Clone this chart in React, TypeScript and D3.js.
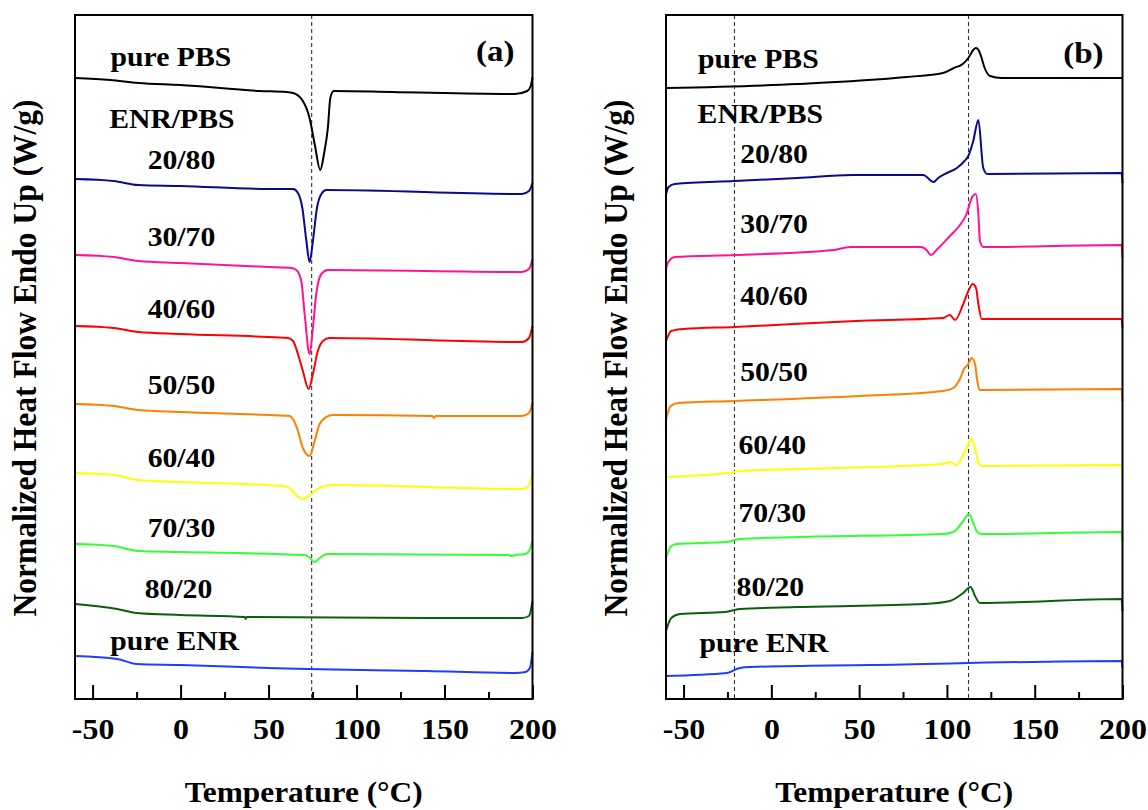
import React, { useEffect, useRef } from "react";
import * as d3 from "d3";

type Pt = [number, number];

// (a) cooling scans, normalized heat flow (W/g, stacked)
const coolPBS: Pt[] = [[-60, 6.21], [-40, 6.19], [-24, 6.16], [0, 6.14], [45, 6.08], [60, 6.07], [64, 6.06], [69.5, 5.98], [73.3, 5.81], [76.2, 5.55], [79.4, 5.29], [81.5, 5.45], [83.7, 5.71], [85.1, 6.01], [87, 6.08], [120, 6.07], [190, 6.05], [197, 6.08], [199, 6.13], [200, 6.22]];
const cool2080: Pt[] = [[-60, 5.20], [-38, 5.18], [-24, 5.14], [0, 5.13], [50, 5.10], [64, 5.10], [66.7, 5.06], [69.2, 4.91], [71.5, 4.58], [73.3, 4.37], [75.2, 4.58], [77.5, 4.91], [80, 5.05], [82.8, 5.09], [194, 5.05], [198, 5.08], [200, 5.16]];
const cool3070: Pt[] = [[-60, 4.44], [-38, 4.42], [-24, 4.38], [0, 4.36], [50, 4.32], [63, 4.31], [65.8, 4.29], [68.6, 4.18], [70.5, 3.85], [73.3, 3.45], [75.2, 3.71], [77.1, 4.05], [80, 4.25], [83.7, 4.29], [194, 4.27], [198, 4.30], [200, 4.40]];
const cool4060: Pt[] = [[-60, 3.73], [-38, 3.71], [-24, 3.67], [0, 3.65], [50, 3.62], [61, 3.61], [63.9, 3.58], [66.7, 3.45], [69.5, 3.28], [72.8, 3.10], [75.2, 3.25], [78, 3.48], [80.9, 3.58], [84.7, 3.61], [194, 3.57], [198, 3.61], [200, 3.73]];
const cool5050: Pt[] = [[-60, 2.95], [-38, 2.93], [-24, 2.89], [0, 2.87], [50, 2.84], [62, 2.83], [63.9, 2.80], [66.7, 2.68], [69.5, 2.51], [73.3, 2.43], [76.2, 2.58], [79, 2.75], [82.8, 2.82], [86.3, 2.84], [143, 2.83], [144, 2.81], [145, 2.83], [194, 2.83], [198, 2.86], [200, 2.96]];
const cool6040: Pt[] = [[-60, 2.26], [-38, 2.24], [-24, 2.19], [0, 2.17], [57.8, 2.13], [61.9, 2.11], [65, 2.05], [69, 2.00], [73, 2.03], [76.1, 2.08], [80.1, 2.12], [86.3, 2.14], [194, 2.10], [198, 2.13], [200, 2.26]];
const cool7030: Pt[] = [[-60, 1.55], [-38, 1.53], [-24, 1.48], [0, 1.47], [70, 1.44], [73, 1.42], [76.1, 1.37], [79.1, 1.41], [83.2, 1.45], [186, 1.44], [188, 1.43], [190, 1.44], [196, 1.45], [198, 1.48], [200, 1.58]];
const cool8020: Pt[] = [[-60, 0.95], [-36, 0.90], [-25, 0.86], [0, 0.84], [36.5, 0.82], [37, 0.80], [37.5, 0.82], [140, 0.81], [194, 0.81], [198, 0.83], [200, 0.98]];
const coolENR: Pt[] = [[-60, 0.43], [-36, 0.40], [-25, 0.35], [0, 0.34], [50, 0.31], [140, 0.28], [190, 0.26], [196, 0.27], [198.5, 0.31], [200, 0.47]];

// (b) heating scans
const heatPBS: Pt[] = [[-60, 6.11], [15, 6.15], [77, 6.22], [97.7, 6.26], [104, 6.31], [109, 6.35], [112.2, 6.41], [115, 6.49], [116.5, 6.51], [118, 6.49], [119.4, 6.43], [121.5, 6.31], [124.6, 6.23], [131, 6.21], [200, 6.21]];
const heat2080: Pt[] = [[-60, 5.05], [-58.5, 5.12], [-55, 5.15], [-21, 5.18], [15, 5.21], [46, 5.24], [86.5, 5.24], [92.4, 5.17], [95, 5.21], [100, 5.26], [105.7, 5.31], [110, 5.38], [112.2, 5.43], [115, 5.58], [117.9, 5.79], [120.7, 5.31], [123, 5.25], [199.5, 5.26], [200, 5.16]];
const heat3070: Pt[] = [[-60, 4.30], [-59, 4.36], [-55, 4.42], [-21, 4.44], [35.7, 4.49], [45, 4.52], [85.3, 4.52], [88.4, 4.49], [90.8, 4.44], [94.6, 4.50], [101.7, 4.63], [107, 4.73], [111.2, 4.85], [114.1, 5.01], [116.4, 5.05], [117.9, 4.85], [118.8, 4.58], [120.7, 4.52], [199.5, 4.54], [200, 4.41]];
const heat4060: Pt[] = [[-60, 3.58], [-57, 3.68], [-50, 3.70], [-21, 3.72], [48, 3.78], [97.7, 3.81], [101.7, 3.84], [104.6, 3.79], [109.3, 3.95], [112.2, 4.08], [114.7, 4.15], [116.6, 4.11], [117.9, 3.95], [119.8, 3.80], [199.5, 3.80], [200, 3.71]];
const heat5050: Pt[] = [[-60, 2.80], [-57.3, 2.93], [-53, 2.96], [-21, 2.98], [50, 3.03], [97.7, 3.08], [103.6, 3.11], [107.4, 3.20], [109.7, 3.30], [112.2, 3.35], [114.1, 3.41], [116, 3.35], [117.3, 3.18], [118.8, 3.09], [199.5, 3.10], [200, 2.98]];
const heat6040: Pt[] = [[-60, 2.22], [-21, 2.27], [-18, 2.28], [15, 2.30], [97.7, 2.35], [101.7, 2.37], [105.2, 2.34], [110.3, 2.48], [112.2, 2.55], [114.1, 2.60], [116, 2.51], [117.9, 2.36], [119.8, 2.33], [199.5, 2.34], [200, 2.25]];
const heat7030: Pt[] = [[-60, 1.41], [-57, 1.53], [-54, 1.55], [-25.3, 1.57], [-18, 1.60], [15, 1.62], [97.7, 1.65], [101.7, 1.66], [104.6, 1.68], [109.3, 1.78], [112.6, 1.85], [115, 1.76], [117.3, 1.67], [119.8, 1.65], [199.5, 1.67], [200, 1.58]];
const heat8020: Pt[] = [[-60, 0.68], [-57, 0.81], [-52, 0.85], [-26.3, 0.87], [-18, 0.90], [15, 0.92], [87, 0.95], [101.7, 0.98], [109.3, 1.06], [113.5, 1.12], [116, 1.03], [118.8, 0.96], [199.5, 1.00], [200, 0.88]];
const heatENR: Pt[] = [[-60, 0.23], [-25.3, 0.26], [-18, 0.31], [-12, 0.32], [56, 0.34], [199.5, 0.38], [200, 0.31]];

const sampleLabels = ["pure PBS", "ENR/PBS", "20/80", "30/70", "40/60", "50/50", "60/40", "70/30", "80/20", "pure ENR"];
const curveColors = ["#000000", "#0a0a8c", "#ff1493", "#ff0000", "#ff8000", "#ffff00", "#33ff33", "#0a600a", "#1f3fff"];
const majorTicks = [-50, 0, 50, 100, 150, 200];
const minorTicks = [-25, 25, 75, 125, 175];
const markerA = [74.5];
const markerB = [-21, 112.3];

// label anchors (temperature, heat flow), layout only
const labelSpotsA: Pt[] = [[-39.8, 6.33], [-40.6, 5.71], [-18.7, 5.30], [-18.7, 4.53], [-18.7, 3.81], [-18.7, 3.05], [-18.7, 2.32], [-18.7, 1.62], [-20.4, 1.01], [-40, 0.49]];
const labelSpotsB: Pt[] = [[-41.8, 6.31], [-42, 5.76], [-17.7, 5.36], [-17.7, 4.66], [-17.7, 3.94], [-17.7, 3.18], [-18.7, 2.45], [-18.7, 1.77], [-19.8, 1.03], [-40.9, 0.47]];

const FONT = "'Liberation Serif', 'Times New Roman', serif";
const SX = 1.1;

const panels = [
  { left: 75, right: 532.5, curves: [coolPBS, cool2080, cool3070, cool4060, cool5050, cool6040, cool7030, cool8020, coolENR], markers: markerA, spots: labelSpotsA, tag: "(a)", tagSpot: [189.7, 6.38] as Pt },
  { left: 666, right: 1122.5, curves: [heatPBS, heat2080, heat3070, heat4060, heat5050, heat6040, heat7030, heat8020, heatENR], markers: markerB, spots: labelSpotsB, tag: "(b)", tagSpot: [189.2, 6.36] as Pt },
];

const TOP = 15;
const BOTTOM = 699;

export default function App() {
  const ref = useRef<SVGSVGElement | null>(null);

  useEffect(() => {
    const svg = d3.select(ref.current);
    svg.selectAll("*").remove();

    const y = d3.scaleLinear().domain([0, 6.84]).range([BOTTOM, TOP]);

    panels.forEach((p) => {
      const x = d3.scaleLinear().domain([-60, 200]).range([p.left, p.right]);
      const g = svg.append("g");

      // dashed guides
      g.selectAll("line.guide")
        .data(p.markers)
        .enter()
        .append("line")
        .attr("x1", (d) => x(d)).attr("x2", (d) => x(d))
        .attr("y1", TOP).attr("y2", BOTTOM)
        .attr("stroke", "#333").attr("stroke-width", 1.1)
        .attr("stroke-dasharray", "4,3");

      const line = d3.line<Pt>()
        .x((d) => x(d[0]))
        .y((d) => y(d[1]))
        .curve(d3.curveMonotoneX);

      g.selectAll("path.curve")
        .data(p.curves)
        .enter()
        .append("path")
        .attr("d", (d) => line(d))
        .attr("fill", "none")
        .attr("stroke", (_, i) => curveColors[i])
        .attr("stroke-width", 2)
        .attr("stroke-linejoin", "round");

      // axes (ticks inward)
      const major = g.append("g").attr("transform", `translate(0,${BOTTOM})`)
        .call(d3.axisBottom(x).tickValues(majorTicks).tickSize(-14).tickPadding(19).tickFormat(d3.format("d")));
      major.select(".domain").remove();
      major.selectAll(".tick line").attr("stroke", "#000").attr("stroke-width", 2);
      major.selectAll(".tick text")
        .attr("font-family", FONT).attr("font-weight", "bold").attr("font-size", 29)
        .attr("fill", "#000").attr("transform", `scale(${SX},1)`)
        .text((d: any) => (d < 0 ? "-" + Math.abs(d) : String(d)));

      const minor = g.append("g").attr("transform", `translate(0,${BOTTOM})`)
        .call(d3.axisBottom(x).tickValues(minorTicks).tickSize(-7).tickFormat(() => ""));
      minor.select(".domain").remove();
      minor.selectAll(".tick line").attr("stroke", "#000").attr("stroke-width", 2);

      g.append("rect")
        .attr("x", p.left).attr("y", TOP)
        .attr("width", p.right - p.left).attr("height", BOTTOM - TOP)
        .attr("fill", "none").attr("stroke", "#000").attr("stroke-width", 2);

      // sample labels
      g.selectAll("g.lab")
        .data(sampleLabels)
        .enter()
        .append("g")
        .attr("transform", (_, i) => `translate(${x(p.spots[i][0])},${y(p.spots[i][1])}) scale(${SX},1)`)
        .append("text")
        .attr("font-family", FONT).attr("font-weight", "bold").attr("font-size", 27)
        .text((d) => d);

      g.append("g")
        .attr("transform", `translate(${x(p.tagSpot[0])},${y(p.tagSpot[1])}) scale(${SX},1)`)
        .append("text")
        .attr("text-anchor", "end")
        .attr("font-family", FONT).attr("font-weight", "bold").attr("font-size", 30)
        .text(p.tag);

      g.append("g")
        .attr("transform", `translate(${(p.left + p.right) / 2},802) scale(${SX},1)`)
        .append("text")
        .attr("text-anchor", "middle")
        .attr("font-family", FONT).attr("font-weight", "bold").attr("font-size", 28.5)
        .text("Temperature (°C)");

      g.append("g")
        .attr("transform", `translate(${p.left - 39},${(TOP + BOTTOM) / 2 + 1}) scale(${SX},1) rotate(-90)`)
        .append("text")
        .attr("text-anchor", "middle")
        .attr("font-family", FONT).attr("font-weight", "bold").attr("font-size", 31.5)
        .text("Normalized Heat Flow Endo Up (W/g)");
    });
  }, []);

  return (
    <svg
      ref={ref}
      width={1148}
      height={810}
      style={{ position: "absolute", left: 0, top: 0, background: "#fff" }}
    />
  );
}
